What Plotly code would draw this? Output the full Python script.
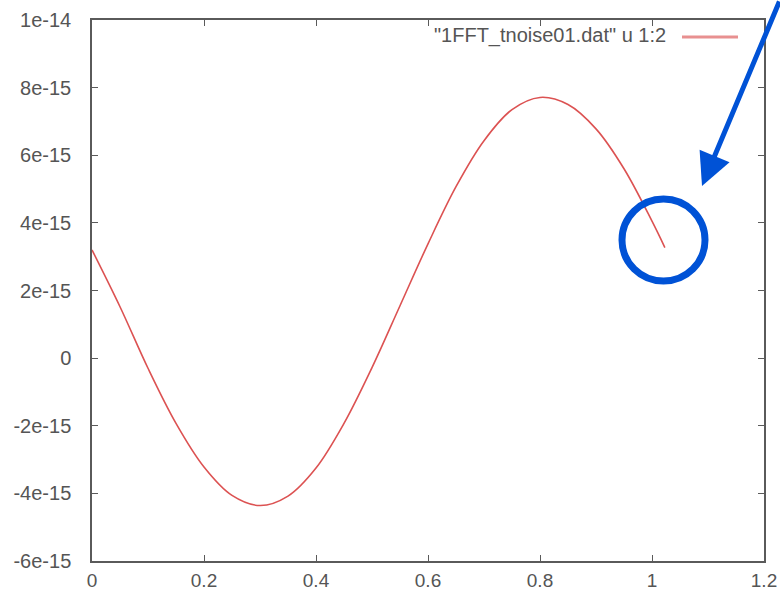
import plotly.graph_objects as go

# Column 1 (time) and column 2 (signal) of 1FFT_tnoise01.dat
t_vals = [0.00, 0.05, 0.10, 0.15, 0.20, 0.25, 0.30, 0.35, 0.40, 0.45, 0.50,
          0.55, 0.60, 0.65, 0.70, 0.75, 0.80, 0.85, 0.90, 0.95, 1.00, 1.023]
sig_vals = [3.20e-15, 1.52e-15, -0.30e-15, -1.93e-15, -3.22e-15, -4.06e-15, -4.36e-15,
            -4.08e-15, -3.25e-15, -1.93e-15, -0.28e-15, 1.55e-15, 3.38e-15, 5.07e-15,
            6.43e-15, 7.35e-15, 7.71e-15, 7.50e-15, 6.78e-15, 5.60e-15, 4.05e-15, 3.27e-15]

x_ticks = [0, 0.2, 0.4, 0.6, 0.8, 1.0, 1.2]
x_labels = ["0", "0.2", "0.4", "0.6", "0.8", "1", "1.2"]
y_ticks = [-6e-15, -4e-15, -2e-15, 0, 2e-15, 4e-15, 6e-15, 8e-15, 1e-14]
y_labels = ["-6e-15", "-4e-15", "-2e-15", "0", "2e-15", "4e-15", "6e-15", "8e-15", "1e-14"]

series_name = '"1FFT_tnoise01.dat" u 1:2'
line_color = "#dc5252"
mark_blue = "#0052d6"
axis_grey = "#5a5a5a"
label_grey = "#555555"
text_font = dict(family="Liberation Sans, Arial, sans-serif", size=20, color=label_grey)
x_font = dict(family="Liberation Sans, Arial, sans-serif", size=19, color=label_grey)

fig = go.Figure()
fig.add_trace(go.Scatter(
    x=t_vals, y=sig_vals, mode="lines", name=series_name,
    line=dict(color=line_color, width=1.6, shape="spline", smoothing=1.0),
    showlegend=False,
))

axis_common = dict(
    showline=True, linecolor=axis_grey, linewidth=1.5, mirror="ticks",
    ticks="inside", ticklen=6, tickcolor=axis_grey, tickwidth=1.2,
    showgrid=False, zeroline=False, automargin=False,
)

fig.update_xaxes(range=[0, 1.2], tickvals=x_ticks, ticktext=x_labels,
                 ticklabelstandoff=1, tickfont=x_font, **axis_common)
fig.update_yaxes(range=[-6e-15, 1e-14], tickvals=y_ticks, ticktext=y_labels,
                 ticklabelstandoff=15, tickfont=text_font, **axis_common)

# gnuplot-style key: text on the left, line sample on the right
fig.add_annotation(
    xref="paper", yref="paper", x=(668 - 92) / 672, y=(561 - 35) / 541,
    xanchor="right", yanchor="middle",
    text=series_name, showarrow=False, font=text_font,
)
fig.add_shape(type="line", xref="paper", yref="paper",
              x0=(682 - 92) / 672, x1=(738 - 92) / 672,
              y0=(561 - 37) / 541, y1=(561 - 37) / 541,
              line=dict(color="#e89090", width=3))

# Blue arrow pointing at the end of the trace
fig.add_annotation(
    xref="paper", yref="paper", x=(702 - 92) / 672, y=(561 - 186) / 541, ax=88, ay=-192,
    text="", showarrow=True, arrowhead=2, arrowsize=1.3, arrowwidth=5,
    arrowcolor=mark_blue, standoff=0,
)
# Circle around the last point
fig.add_shape(type="circle", xref="paper", yref="paper",
              x0=(622 - 92) / 672, x1=(705 - 92) / 672,
              y0=(561 - 281) / 541, y1=(561 - 199) / 541,
              line=dict(color=mark_blue, width=7))

fig.update_layout(
    width=780, height=596,
    margin=dict(l=92, r=16, t=20, b=35),
    paper_bgcolor="white", plot_bgcolor="white",
)

fig.write_html("out.html")
